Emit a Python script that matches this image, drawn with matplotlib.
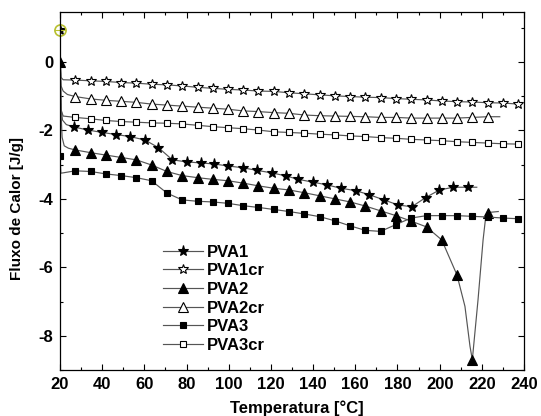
import matplotlib
matplotlib.use("Agg")
import matplotlib.pyplot as plt
from matplotlib.ticker import MultipleLocator

plt.rcParams['font.family'] = ['Liberation Sans', 'DejaVu Sans']
plt.rcParams['font.weight'] = 'bold'
plt.rcParams['axes.unicode_minus'] = False

# regular temperature grid (marker positions)
T_grid = [27.2, 34.5, 41.7, 49.0, 56.2, 63.4, 70.7, 77.9, 85.2, 92.4,
          99.6, 106.9, 114.1, 121.4, 128.6, 135.8, 143.1, 150.3, 157.6, 164.8,
          172.0, 179.3, 186.5, 193.8, 201.0, 208.2, 215.5, 222.7, 230.0, 237.2]

# PVA1 (own spacing)
pva1_t = [20.0, 20.3, 20.6, 21.2, 23.0,
          26.6, 33.4, 40.1, 46.6, 53.2, 60.3, 66.6, 73.3, 80.1, 86.7,
          93.0, 99.8, 106.6, 113.6, 120.4, 127.2, 133.0, 139.8, 146.5, 153.2,
          160.2, 166.7, 173.6, 180.4, 186.8, 193.4, 199.9, 206.5, 213.6, 217.6]
pva1_v = [0.93, -0.5, -1.4, -1.7, -1.83,
          -1.90, -1.99, -2.06, -2.12, -2.18, -2.28, -2.50, -2.86, -2.92, -2.95,
          -2.98, -3.04, -3.09, -3.17, -3.24, -3.33, -3.43, -3.51, -3.59, -3.69,
          -3.76, -3.88, -4.03, -4.18, -4.23, -3.96, -3.74, -3.66, -3.66, -3.66]
pva1_marks = [0] + list(range(5, 34))

# PVA1cr
pva1cr_t0 = [20.0, 20.5, 21.5]
pva1cr_v0 = [0.3, -0.45, -0.52]
pva1cr_v = [-0.53, -0.55, -0.57, -0.60, -0.62, -0.65, -0.67, -0.70, -0.74, -0.77,
            -0.80, -0.82, -0.85, -0.86, -0.90, -0.93, -0.96, -0.99, -1.01, -1.03,
            -1.04, -1.07, -1.09, -1.11, -1.14, -1.16, -1.17, -1.19, -1.20, -1.23]

# PVA2 (with points read along the melting dip)
pva2_t = [20.0, 20.5, 21.0, 22.0, 24.0,
          27.2, 34.5, 41.7, 49.0, 56.2, 63.4, 70.7, 77.9, 85.2, 92.4,
          99.6, 106.9, 114.1, 121.4, 128.6, 135.8, 143.1, 150.3, 157.6, 164.8,
          172.0, 179.3, 186.5, 193.8, 201.0, 208.2, 212.0, 214.4, 215.5,
          218.2, 220.6, 221.8, 222.7, 227.8]
pva2_v = [0.0, -1.5, -2.2, -2.45, -2.52,
          -2.57, -2.65, -2.72, -2.79, -2.86, -3.01, -3.20, -3.32, -3.38, -3.43,
          -3.47, -3.54, -3.62, -3.69, -3.74, -3.82, -3.91, -4.00, -4.09, -4.21,
          -4.35, -4.49, -4.65, -4.82, -5.20, -6.22, -7.14, -8.31, -8.70,
          -6.95, -5.20, -4.55, -4.40, -4.37]
pva2_marks = [0] + list(range(5, 31)) + [33, 37]

# PVA2cr
pva2cr_t0 = [20.0, 20.5, 21.5, 23.5]
pva2cr_v0 = [0.1, -0.7, -0.85, -0.95]
pva2cr_v = [-1.01, -1.08, -1.12, -1.15, -1.18, -1.23, -1.26, -1.29, -1.32, -1.35,
            -1.38, -1.43, -1.45, -1.48, -1.50, -1.55, -1.57, -1.58, -1.59, -1.60,
            -1.62, -1.62, -1.64, -1.64, -1.64, -1.64, -1.62, -1.60]
pva2cr_t_end = [228.5]
pva2cr_v_end = [-1.60]

# PVA3
pva3_t0 = [20.0, 20.4, 21.5]
pva3_v0 = [-2.76, -3.25, -3.24]
pva3_v = [-3.18, -3.20, -3.27, -3.32, -3.38, -3.47, -3.83, -4.03, -4.07, -4.09,
          -4.13, -4.20, -4.25, -4.31, -4.37, -4.44, -4.52, -4.64, -4.79, -4.92,
          -4.95, -4.75, -4.56, -4.49, -4.49, -4.49, -4.51, -4.53, -4.56, -4.58]

# PVA3cr
pva3cr_t0 = [20.0, 20.5, 21.5]
pva3cr_v0 = [-0.5, -1.4, -1.58]
pva3cr_v = [-1.62, -1.66, -1.71, -1.74, -1.76, -1.78, -1.79, -1.81, -1.85, -1.89,
            -1.92, -1.95, -1.99, -2.04, -2.06, -2.08, -2.11, -2.13, -2.16, -2.18,
            -2.21, -2.23, -2.26, -2.28, -2.30, -2.33, -2.35, -2.37, -2.39, -2.40]

x_ticks = [20, 40, 60, 80, 100, 120, 140, 160, 180, 200, 220, 240]
y_ticks = [0, -2, -4, -6, -8]

fig = plt.figure(figsize=(5.41, 4.16), dpi=100)
ax = fig.add_axes([60/541, 46/416, 464/541, 358/416])

lc = '#555555'
lw = 0.85

def series(t, v, marker, filled, ms, label, marks):
    ax.plot(t, v, color=lc, lw=lw, marker=marker, ms=ms,
            mfc='black' if filled else 'white', mec='black', mew=0.8,
            markevery=marks, label=label)

n1 = len(pva1cr_t0)
series(pva1_t, pva1_v, '*', True, 8, 'PVA1', pva1_marks)
series(pva1cr_t0 + T_grid, pva1cr_v0 + pva1cr_v, '*', False, 7.5, 'PVA1cr',
       list(range(n1, n1 + len(pva1cr_v))))
series(pva2_t, pva2_v, '^', True, 6.5, 'PVA2', pva2_marks)
n2 = len(pva2cr_t0)
series(pva2cr_t0 + T_grid[:len(pva2cr_v)] + pva2cr_t_end,
       pva2cr_v0 + pva2cr_v + pva2cr_v_end, '^', False, 6.5, 'PVA2cr',
       list(range(n2, n2 + len(pva2cr_v))))
n3 = len(pva3_t0)
series(pva3_t0 + T_grid, pva3_v0 + pva3_v, 's', True, 5, 'PVA3',
       [0] + list(range(n3, n3 + len(pva3_v))))
n4 = len(pva3cr_t0)
series(pva3cr_t0 + T_grid, pva3cr_v0 + pva3cr_v, 's', False, 5, 'PVA3cr',
       list(range(n4, n4 + len(pva3cr_v))))

# data-reader cursor visible in the original
ax.plot([pva1_t[0]], [pva1_v[0]], marker='o', ms=8, mfc='none', mec='#b8c030', mew=1.2, clip_on=False)
ax.plot([pva1_t[0]], [pva1_v[0]], marker='+', ms=8, color='#b8c030', mew=0.8, clip_on=False)

ax.set_xlim(20, 240)
ax.set_ylim(-9, 1.46)
ax.set_xticks(x_ticks)
ax.set_yticks(y_ticks)
ax.xaxis.set_minor_locator(MultipleLocator(10))
ax.yaxis.set_minor_locator(MultipleLocator(1))
ax.tick_params(which='both', direction='in', top=True, right=True,
               labelsize=12, width=0.8, pad=5)
ax.tick_params(which='major', length=4)
ax.tick_params(which='minor', length=2.5)
for lab in ax.get_xticklabels() + ax.get_yticklabels():
    lab.set_fontweight('bold')
for s in ax.spines.values():
    s.set_linewidth(0.9)

ax.set_xlabel('Temperatura [°C]', fontsize=12, fontweight='bold', labelpad=3)
ax.xaxis.set_label_coords(0.51, -0.085)
ax.set_ylabel('Fluxo de Calor [J/g]', fontsize=11, fontweight='bold')
ax.yaxis.set_label_coords(-0.078, 0.45)

leg = ax.legend(loc='center left', bbox_to_anchor=(0.222, 0.199), frameon=False,
                borderpad=0, borderaxespad=0, handlelength=2.4, handletextpad=0.25,
                labelspacing=0.22, prop={'size': 12, 'weight': 'bold'})

fig.savefig('out.png', dpi=100)
